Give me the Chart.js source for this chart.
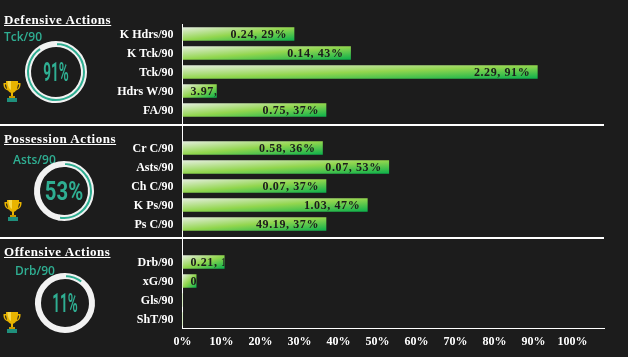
<!DOCTYPE html>
<html>
<head>
<meta charset="utf-8">
<script src="https://cdn.jsdelivr.net/npm/chart.js@4/dist/chart.umd.min.js"></script>
<style>
html, body { margin: 0; padding: 0; background: #1c1c1c; }
#stage { position: relative; width: 628px; height: 357px; overflow: hidden; background: #1c1c1c; }
#main { position: absolute; left: 0; top: 0; }
.rule { position: absolute; left: 0; width: 604px; height: 2px; background: #fff; }
.title { position: absolute; color: #fff; font: bold 13px "Liberation Serif", serif; letter-spacing: 0.55px; text-decoration: underline; white-space: nowrap; }
.metric { position: absolute; color: #2fae92; font: 600 12px "Open Sans", sans-serif; white-space: nowrap; }
.ring { position: absolute; width: 70px; height: 70px; }
.pct { position: absolute; width: 70px; height: 70px; text-align: center; color: #2fae92; font: bold 26px/70px Roboto, sans-serif; }
.cup { position: absolute; width: 18px; height: 23px; }
</style>
</head>
<body>
<div id="stage">
  <canvas id="main" width="628" height="357"></canvas>
</div>
<script>
// Section names and rows
const sections = ['Defensive Actions', 'Possession Actions', 'Offensive Actions'];
const defLabels = ['K Hdrs/90', 'K Tck/90', 'Tck/90', 'Hdrs W/90', 'FA/90'];
const posLabels = ['Cr C/90', 'Asts/90', 'Ch C/90', 'K Ps/90', 'Ps C/90'];
const offLabels = ['Drb/90', 'xG/90', 'Gls/90', 'ShT/90'];

// Percentile (bar length) per row
const defPct = [28.6, 43.1, 91, 8.7, 36.8];
const posPct = [35.9, 52.9, 36.8, 47.4, 36.8];
const offPct = [10.7, 3.5, 0, 0];

// Per 90 value shown in the bar
const defPer90 = ['0.24', '0.14', '2.29', '3.97', '0.75'];
const posPer90 = ['0.58', '0.07', '0.07', '1.03', '49.19'];
const offPer90 = ['0.21', '0.01', '', ''];

// Ring headline per section
const ringLabels = ['Tck/90', 'Asts/90', 'Drb/90'];
const ringPct = [91, 53, 11];

const xTicks = [0, 10, 20, 30, 40, 50, 60, 70, 80, 90, 100];

// Blank row between sections
const labels = [...defLabels, '', ...posLabels, '', ...offLabels];
const pctValues = [...defPct, null, ...posPct, null, ...offPct];
const per90Values = [...defPer90, '', ...posPer90, '', ...offPer90];

const stage = document.getElementById('stage');

// Pale top left corner to green bottom right, other two corners share the mid colour
function barGradient(ctx) {
    const chart = ctx.chart;
    if (ctx.type !== 'data' || !chart.chartArea || !ctx.raw) return '#90d050';
    const x = chart.scales.x, y = chart.scales.y;
    const left = x.getPixelForValue(0);
    const w = x.getPixelForValue(ctx.raw) - left;
    const h = 13;
    const top = y.getPixelForValue(ctx.dataIndex) - h / 2;
    const k = 2 * w * h / (w * w + h * h);
    const g = chart.ctx.createLinearGradient(left, top, left + h * k, top + w * k);
    g.addColorStop(0, '#e4eedd');
    g.addColorStop(0.5, '#92d64e');
    g.addColorStop(1, '#0db14b');
    return g;
}

// Text sits at the bar end, when too long it starts at the bar and gets cut off
const barText = {
    id: 'barText',
    afterDatasetsDraw(chart) {
        const c = chart.ctx;
        const meta = chart.getDatasetMeta(0);
        c.save();
        c.font = 'bold 12px "Liberation Serif", serif';
        c.letterSpacing = '0.6px';
        c.fillStyle = '#1c1c1c';
        c.textBaseline = 'middle';
        meta.data.forEach((bar, i) => {
            if (!pctValues[i]) return;
            const text = per90Values[i] + ', ' + Math.round(pctValues[i]) + '%';
            const left = chart.scales.x.getPixelForValue(0);
            const w = c.measureText(text).width;
            const tx = Math.max(bar.x - w - 7, left + 8);
            c.save();
            c.beginPath();
            c.rect(left, bar.y - 7, bar.x - left, 14);
            c.clip();
            c.fillText(text, tx, bar.y + 1);
            c.restore();
        });
        c.restore();
    }
};

new Chart(document.getElementById('main'), {
    type: 'bar',
    plugins: [barText],
    data: {
        labels: labels,
        datasets: [{
            data: pctValues,
            barThickness: 13,
            backgroundColor: barGradient
        }]
    },
    options: {
        indexAxis: 'y',
        responsive: false,
        animation: false,
        layout: { padding: { top: 24.5, right: 24, left: 0, bottom: 0 } },
        plugins: { legend: { display: false }, tooltip: { enabled: false } },
        scales: {
            x: {
                min: 0,
                max: 108.1,
                grid: { display: false, drawTicks: false },
                border: { color: '#fff', width: 1 },
                afterBuildTicks(scale) { scale.ticks = xTicks.map(v => ({ value: v })); },
                afterFit(scale) { scale.height = 28.5; },
                ticks: {
                    color: '#fff',
                    padding: 6,
                    maxRotation: 0,
                    font: { family: '"Liberation Serif", serif', weight: 'bold', size: 12 },
                    callback: v => v + '%'
                }
            },
            y: {
                grid: { display: false, drawTicks: false },
                border: { color: '#fff', width: 1 },
                afterFit(scale) { scale.width = 182.5; },
                ticks: {
                    color: '#fff',
                    padding: 9,
                    autoSkip: false,
                    labelOffset: 1,
                    font: { family: '"Liberation Serif", serif', weight: 'bold', size: 12 }
                }
            }
        }
    }
});

// Page furniture
function addDiv(cls, left, top, text) {
    const d = document.createElement('div');
    d.className = cls;
    d.style.left = left + 'px';
    d.style.top = top + 'px';
    if (text) d.textContent = text;
    stage.appendChild(d);
    return d;
}

addDiv('rule', 0, 124);
addDiv('rule', 0, 237);

function addCup(left, top) {
    const d = addDiv('cup', left, top);
    d.innerHTML = '<svg width="18" height="23" viewBox="0 0 18 23">' +
        '<path d="M3 2 H15 V4 H17.5 C18 9 15 11 13 11.5 C12 13 10.5 13.5 10 14 V17 H8 V14 C7.5 13.5 6 13 5 11.5 C3 11 0 9 .5 4 H3 Z M3 5.5 H2 C2 8 3 9.5 4 10 Z M15 5.5 V5.5 L14 10 C15 9.5 16 8 16 5.5 Z" fill="#e8b400" fill-rule="evenodd"/>' +
        '<path d="M4.5 2 H8 V11 C6 10 4.5 7 4.5 2 Z" fill="#f7d94a"/>' +
        '<rect x="6" y="17" width="6" height="2" fill="#c89a00"/>' +
        '<rect x="4" y="19" width="10" height="4" fill="#1f8f7c"/></svg>';
}

const titlePos = [[4, 12], [4, 131], [4, 244]];
const metricPos = [[4, 28], [13, 151], [15, 262]];
const ringCentres = [[55.5, 72], [63.5, 191], [64.5, 302.5]];
const ringRadius = [30.5, 29.5, 29.5];
const cupPos = [[3, 79], [4, 198], [3, 310]];
const pctSquash = [0.52, 0.78, 0.52];

sections.forEach((name, i) => {
    addDiv('title', titlePos[i][0], titlePos[i][1], name);
    addDiv('metric', metricPos[i][0], metricPos[i][1], ringLabels[i]);
    addCup(cupPos[i][0], cupPos[i][1]);

    const left = ringCentres[i][0] - 35, top = ringCentres[i][1] - 35;
    const holder = addDiv('ring', left, top);
    const cv = document.createElement('canvas');
    cv.width = 70;
    cv.height = 70;
    holder.appendChild(cv);
    addDiv('pct', left, top, ringPct[i] + '%').style.transform = 'scaleX(' + pctSquash[i] + ')';

    // White ring is the border of the arcs, teal shows through the middle
    const R = ringRadius[i];
    new Chart(cv, {
        type: 'doughnut',
        data: {
            datasets: [{
                data: [ringPct[i], 100 - ringPct[i]],
                backgroundColor: ['#2fae92', '#f2f2f2'],
                borderColor: '#f2f2f2',
                borderWidth: 2
            }]
        },
        options: {
            responsive: false,
            animation: false,
            radius: R - 0.5,
            cutout: ((R - 4.5) / (R - 0.5) * 100) + '%',
            plugins: { legend: { display: false }, tooltip: { enabled: false } }
        }
    });
});
</script>
</body>
</html>
